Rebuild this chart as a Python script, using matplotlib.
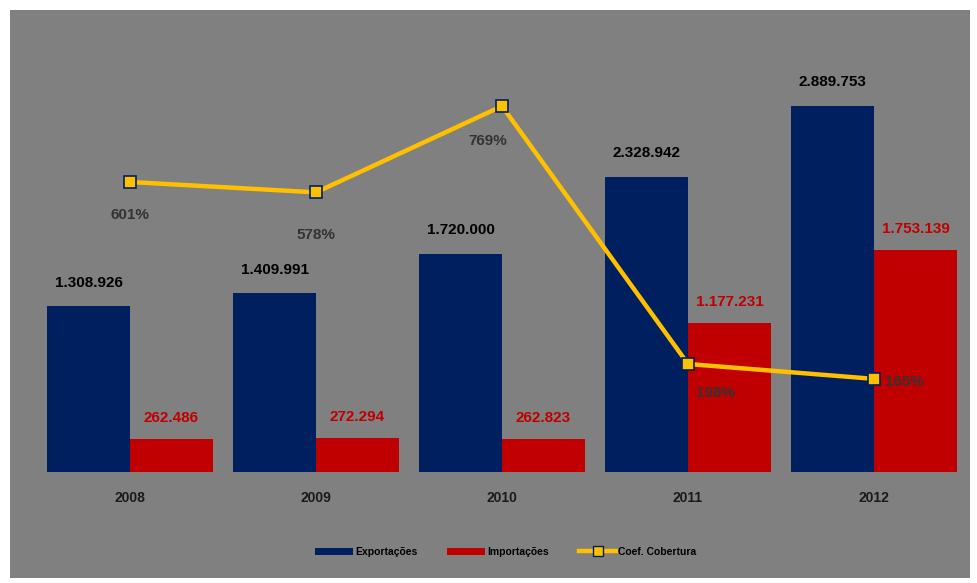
import matplotlib
matplotlib.use("Agg")
import matplotlib.pyplot as plt
from matplotlib.patches import Rectangle
from matplotlib.lines import Line2D
from matplotlib.patches import Patch
import numpy as np

plt.rcParams["font.family"] = ["Liberation Sans", "DejaVu Sans"]

# ---- data ----
anos = ["2008", "2009", "2010", "2011", "2012"]
exportacoes = [1308926, 1409991, 1720000, 2328942, 2889753]
importacoes = [262486, 272294, 262823, 1177231, 1753139]
cobertura = [601, 578, 769, 198, 165]   # %

def fmt_pt(v):
    return f"{v:,}".replace(",", ".")

BG = "#808080"
NAVY = "#001F5F"
RED = "#C00000"
YEL = "#FFC000"

fig = plt.figure(figsize=(9.78, 5.83), dpi=100, facecolor="white")
# grey chart area inside a thin white frame
fig.patches.append(Rectangle((10 / 978, 5 / 583), 960 / 978, 568 / 583,
                             transform=fig.transFigure, facecolor=BG,
                             edgecolor="none", zorder=-5))

ax = fig.add_axes([37 / 978, 111 / 583, 930 / 978, 432 / 583])
ax.set_facecolor("none")
x = np.arange(len(anos))
w = 0.446
ax.bar(x - w / 2, exportacoes, w, color=NAVY, zorder=2)
ax.bar(x + w / 2, importacoes, w, color=RED, zorder=2)
ax.set_xlim(-0.5, len(anos) - 0.5)
ax.set_ylim(0, 3.41e6)
ax.set_xticks(x)
ax.set_xticklabels(anos, fontsize=10, fontweight="bold", color="#1a1a1a")
ax.tick_params(axis="x", length=0, pad=14)
ax.set_yticks([])
for sp in ax.spines.values():
    sp.set_visible(False)

for xi, v in zip(x, exportacoes):
    ax.annotate(fmt_pt(v), (xi - w / 2, v), xytext=(0, 12), textcoords="offset points",
                ha="center", va="bottom", fontsize=11, fontweight="bold", color="black")
for xi, v in zip(x, importacoes):
    ax.annotate(fmt_pt(v), (xi + w / 2, v), xytext=(0, 10), textcoords="offset points",
                ha="center", va="bottom", fontsize=11, fontweight="bold", color=RED)

# coverage ratio on a secondary axis
ax2 = ax.twinx()
ax2.set_ylim(-41.2, 915.4)
ax2.set_yticks([])
for sp in ax2.spines.values():
    sp.set_visible(False)
ax2.plot(x, cobertura, color=YEL, lw=3.2, marker="s", ms=8,
         markerfacecolor=YEL, markeredgecolor=NAVY, markeredgewidth=1.2, zorder=3)
offsets = [(0, -24), (0, -31), (-10, -25), (20, -21), (22, -2)]
for xi, v, off in zip(x, cobertura, offsets):
    ax2.annotate(f"{v}%", (xi, v), xytext=off, textcoords="offset points",
                 ha="center", va="center", fontsize=11, fontweight="bold",
                 color="#333333")

handles = [
    Patch(facecolor=NAVY, edgecolor="none", label="Exportações"),
    Patch(facecolor=RED, edgecolor="none", label="Importações"),
    Line2D([0], [0], color=YEL, lw=3.2, marker="s", ms=7,
           markerfacecolor=YEL, markeredgecolor=NAVY, label="Coef. Cobertura"),
]
fig.legend(handles=handles, loc="center", bbox_to_anchor=(506 / 978, 1 - 552 / 583),
           ncol=3, frameon=False, prop={"size": 7.5, "weight": "bold"},
           handlelength=3.6, handleheight=0.7,
           columnspacing=2.9, handletextpad=0.2)

fig.savefig("out.png", dpi=100, facecolor=fig.get_facecolor())
